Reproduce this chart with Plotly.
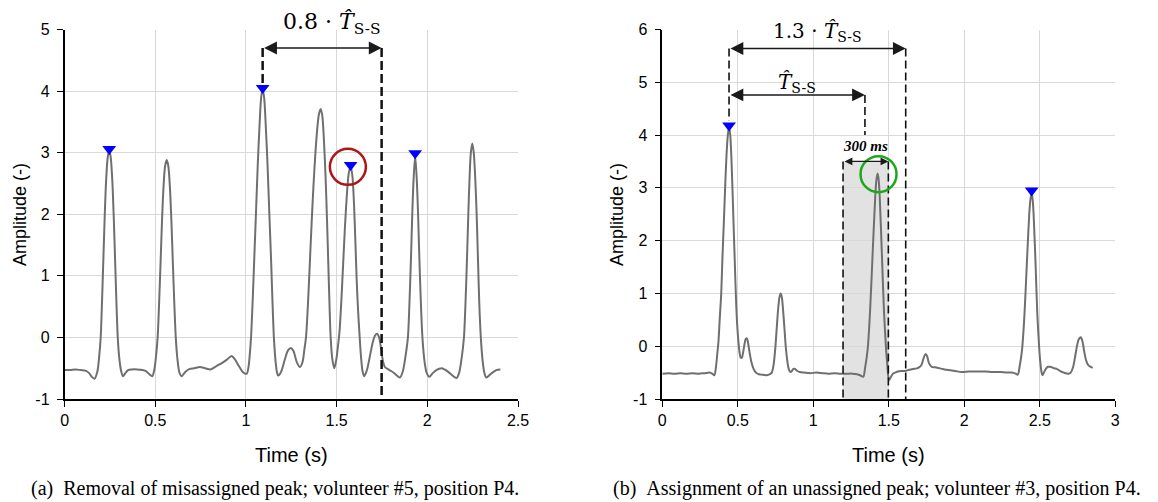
import plotly.graph_objects as go

# ---------------- data ----------------
left_time = [0.000, 0.030, 0.060, 0.090, 0.115, 0.135, 0.150, 0.165, 0.181, 0.191,
             0.199, 0.206, 0.213, 0.221, 0.229, 0.238, 0.246, 0.254, 0.263, 0.271,
             0.279, 0.286, 0.293, 0.302, 0.312, 0.322, 0.335, 0.350, 0.370, 0.400,
             0.430, 0.450, 0.468, 0.483, 0.495, 0.505, 0.513, 0.521, 0.529, 0.537,
             0.545, 0.554, 0.563, 0.572, 0.581, 0.589, 0.597, 0.605, 0.613, 0.622,
             0.633, 0.645, 0.665, 0.690, 0.715, 0.745, 0.775, 0.805, 0.835, 0.865,
             0.895, 0.921, 0.940, 0.960, 0.982, 1.004, 1.014, 1.021, 1.028, 1.037,
             1.046, 1.055, 1.065, 1.075, 1.084, 1.092, 1.100, 1.109, 1.119, 1.129,
             1.138, 1.146, 1.154, 1.163, 1.172, 1.178, 1.195, 1.215, 1.232, 1.248,
             1.262, 1.280, 1.298, 1.312, 1.322, 1.331, 1.342, 1.352, 1.362, 1.372,
             1.382, 1.392, 1.402, 1.412, 1.421, 1.430, 1.439, 1.447, 1.454, 1.461,
             1.467, 1.476, 1.487, 1.497, 1.507, 1.516, 1.526, 1.536, 1.546, 1.556,
             1.566, 1.577, 1.587, 1.596, 1.604, 1.611, 1.618, 1.626, 1.634, 1.643,
             1.652, 1.668, 1.685, 1.700, 1.712, 1.723, 1.734, 1.745, 1.755, 1.766,
             1.785, 1.803, 1.825, 1.849, 1.865, 1.880, 1.893, 1.902, 1.910, 1.917,
             1.924, 1.933, 1.942, 1.949, 1.956, 1.964, 1.973, 1.985, 1.997, 2.011,
             2.030, 2.050, 2.065, 2.080, 2.095, 2.115, 2.135, 2.161, 2.175, 2.190,
             2.202, 2.211, 2.219, 2.226, 2.233, 2.240, 2.248, 2.256, 2.264, 2.272,
             2.279, 2.286, 2.295, 2.305, 2.315, 2.325, 2.340, 2.360, 2.380, 2.403]
left_amp = [-0.53, -0.53, -0.52, -0.53, -0.54, -0.58, -0.64, -0.67, -0.55, -0.30,
            0.00, 0.55, 1.20, 1.95, 2.55, 2.93, 3.03, 2.93, 2.55, 1.95,
            1.20, 0.55, 0.00, -0.35, -0.55, -0.63, -0.58, -0.53, -0.52, -0.52,
            -0.53, -0.55, -0.60, -0.63, -0.52, -0.28, 0.00, 0.55, 1.20, 1.88,
            2.42, 2.78, 2.88, 2.78, 2.42, 1.88, 1.20, 0.55, 0.00, -0.35,
            -0.57, -0.63, -0.56, -0.51, -0.50, -0.48, -0.50, -0.52, -0.47, -0.42,
            -0.36, -0.30, -0.36, -0.46, -0.56, -0.59, -0.48, -0.28, 0.00, 0.60,
            1.30, 2.00, 2.80, 3.45, 3.90, 4.03, 3.90, 3.45, 2.80, 2.00,
            1.30, 0.60, 0.00, -0.38, -0.58, -0.62, -0.55, -0.35, -0.21, -0.17,
            -0.22, -0.40, -0.48, -0.40, -0.20, 0.00, 0.55, 1.20, 1.85, 2.45,
            2.95, 3.35, 3.62, 3.71, 3.60, 3.20, 2.60, 1.90, 1.20, 0.50,
            0.00, -0.35, -0.50, -0.38, -0.15, 0.10, 0.60, 1.20, 1.80, 2.30,
            2.65, 2.78, 2.62, 2.15, 1.50, 0.90, 0.45, 0.05, -0.30, -0.55,
            -0.63, -0.52, -0.28, -0.07, 0.03, 0.06, 0.00, -0.18, -0.38, -0.48,
            -0.52, -0.55, -0.60, -0.65, -0.55, -0.30, 0.00, 0.60, 1.30, 2.00,
            2.55, 2.95, 2.55, 2.00, 1.30, 0.60, 0.00, -0.40, -0.58, -0.64,
            -0.58, -0.53, -0.51, -0.50, -0.52, -0.56, -0.61, -0.66, -0.58, -0.32,
            0.00, 0.60, 1.30, 2.00, 2.60, 3.00, 3.15, 3.00, 2.60, 2.00,
            1.30, 0.60, 0.00, -0.38, -0.58, -0.65, -0.62, -0.57, -0.53, -0.52]

right_time = [0.000, 0.040, 0.080, 0.120, 0.160, 0.200, 0.240, 0.280, 0.316, 0.330,
              0.345, 0.355, 0.364, 0.372, 0.381, 0.390, 0.398, 0.407, 0.416, 0.425,
              0.434, 0.442, 0.450, 0.457, 0.465, 0.472, 0.480, 0.487, 0.495, 0.504,
              0.512, 0.520, 0.527, 0.535, 0.545, 0.553, 0.560, 0.567, 0.577, 0.590,
              0.603, 0.620, 0.640, 0.660, 0.690, 0.713, 0.725, 0.737, 0.748, 0.758,
              0.767, 0.776, 0.784, 0.792, 0.800, 0.809, 0.818, 0.828, 0.838, 0.848,
              0.858, 0.868, 0.878, 0.890, 0.910, 0.940, 0.980, 1.020, 1.060, 1.100,
              1.140, 1.180, 1.220, 1.260, 1.290, 1.310, 1.331, 1.343, 1.360, 1.376,
              1.393, 1.410, 1.418, 1.426, 1.433, 1.440, 1.454, 1.468, 1.482, 1.490,
              1.497, 1.503, 1.515, 1.527, 1.541, 1.560, 1.580, 1.607, 1.630, 1.660,
              1.685, 1.700, 1.715, 1.728, 1.738, 1.746, 1.755, 1.766, 1.784, 1.806,
              1.840, 1.870, 1.894, 1.940, 1.983, 2.030, 2.080, 2.137, 2.190, 2.240,
              2.280, 2.314, 2.340, 2.354, 2.366, 2.382, 2.398, 2.414, 2.430, 2.438,
              2.446, 2.452, 2.459, 2.472, 2.484, 2.497, 2.505, 2.512, 2.517, 2.527,
              2.540, 2.555, 2.568, 2.582, 2.597, 2.612, 2.635, 2.660, 2.689, 2.705,
              2.720, 2.735, 2.748, 2.760, 2.771, 2.782, 2.793, 2.805, 2.817, 2.830,
              2.850]
right_amp = [-0.52, -0.51, -0.52, -0.51, -0.52, -0.51, -0.52, -0.51, -0.50, -0.52,
             -0.55, -0.40, -0.15, 0.09, 0.55, 0.98, 1.65, 2.31, 3.00, 3.61,
             4.00, 4.16, 4.00, 3.61, 2.95, 2.31, 1.60, 0.98, 0.45, 0.09,
             -0.12, -0.22, -0.22, -0.12, 0.05, 0.14, 0.15, 0.08, -0.10, -0.30,
             -0.42, -0.50, -0.53, -0.54, -0.55, -0.53, -0.50, -0.35, -0.05, 0.35,
             0.70, 0.93, 1.00, 0.92, 0.68, 0.33, -0.02, -0.28, -0.44, -0.49,
             -0.47, -0.43, -0.43, -0.46, -0.49, -0.50, -0.51, -0.50, -0.51, -0.52,
             -0.51, -0.52, -0.52, -0.52, -0.53, -0.55, -0.58, -0.41, -0.06, 0.67,
             1.76, 2.82, 3.15, 3.27, 3.15, 2.82, 1.76, 0.67, -0.06, -0.35,
             -0.58, -0.64, -0.58, -0.52, -0.50, -0.48, -0.47, -0.47, -0.45, -0.43,
             -0.42, -0.40, -0.36, -0.25, -0.17, -0.15, -0.20, -0.32, -0.39, -0.40,
             -0.42, -0.44, -0.45, -0.47, -0.49, -0.48, -0.48, -0.48, -0.49, -0.49,
             -0.50, -0.50, -0.52, -0.54, -0.39, -0.08, 0.58, 1.55, 2.50, 2.78,
             2.90, 2.80, 2.50, 1.55, 0.58, -0.08, -0.35, -0.50, -0.55, -0.50,
             -0.43, -0.39, -0.39, -0.40, -0.42, -0.43, -0.47, -0.50, -0.52, -0.50,
             -0.40, -0.18, 0.03, 0.14, 0.17, 0.10, -0.08, -0.25, -0.34, -0.38,
             -0.41]

# detected peaks (markers)
left_peak_time = [0.246, 1.092, 1.577, 1.933]
left_peak_amp = [3.06, 4.05, 2.80, 2.99]
right_peak_time = [0.442, 2.446]
right_peak_amp = [4.18, 2.95]

# annotation quantities
left_ref_peak = 1.092          # start of the 0.8*T window
left_T_ss = 0.82               # estimated S-S period (s)
left_factor = 0.8
left_removed_peak = (1.562, 2.77)

right_ref_peak = 0.442
right_T_ss = 0.90
right_factor = 1.3
search_window_start = 1.197
search_window_len = 0.300
right_found_peak = (1.432, 3.26)

# axes / tick labels
left_xticks = [0, 0.5, 1, 1.5, 2, 2.5]
left_xtick_text = ["0", "0.5", "1", "1.5", "2", "2.5"]
left_yticks = [-1, 0, 1, 2, 3, 4, 5]
left_ytick_text = ["-1", "0", "1", "2", "3", "4", "5"]
right_xticks = [0, 0.5, 1, 1.5, 2, 2.5, 3]
right_xtick_text = ["0", "0.5", "1", "1.5", "2", "2.5", "3"]
right_yticks = [-1, 0, 1, 2, 3, 4, 5, 6]
right_ytick_text = ["-1", "0", "1", "2", "3", "4", "5", "6"]

caption_a = "(a)\u00a0\u00a0Removal of misassigned peak; volunteer #5, position P4."
caption_b = "(b)\u00a0\u00a0Assignment of an unassigned peak; volunteer #3, position P4."

# ---------------- figure ----------------
W, H = 1158, 502
def px_x(p):
    return p / W
def px_y(p):
    return (H - p) / H

CURVE = "#6f6f6f"
fig = go.Figure()
fig.add_trace(go.Scatter(x=left_time, y=left_amp, mode="lines",
                         line=dict(color=CURVE, width=2, shape="spline", smoothing=0.8),
                         xaxis="x", yaxis="y", showlegend=False, hoverinfo="skip"))
fig.add_trace(go.Scatter(x=left_peak_time, y=left_peak_amp, mode="markers",
                         marker=dict(symbol="triangle-down", size=12, color="#0000ff"),
                         xaxis="x", yaxis="y", showlegend=False, cliponaxis=False))
fig.add_trace(go.Scatter(x=right_time, y=right_amp, mode="lines",
                         line=dict(color=CURVE, width=2, shape="spline", smoothing=0.8),
                         xaxis="x2", yaxis="y2", showlegend=False, hoverinfo="skip"))
fig.add_trace(go.Scatter(x=right_peak_time, y=right_peak_amp, mode="markers",
                         marker=dict(symbol="triangle-down", size=12, color="#0000ff"),
                         xaxis="x2", yaxis="y2", showlegend=False, cliponaxis=False))

ydom = [px_y(399), px_y(29.5)]
axis_common = dict(showgrid=True, gridcolor="#d9d9d9", gridwidth=1, zeroline=False,
                   showline=True, linecolor="black", linewidth=1.6, ticks="outside",
                   ticklen=6, tickcolor="black", tickwidth=1, mirror=False,
                   automargin=False,
                   tickfont=dict(family="Liberation Sans, Arial", size=16, color="black"))
fig.update_layout(
    width=W, height=H, margin=dict(l=0, r=0, t=0, b=0, autoexpand=False), autosize=False,
    paper_bgcolor="white", plot_bgcolor="white",
    xaxis=dict(domain=[px_x(64.6), px_x(518)], range=[0, 2.5], tickvals=left_xticks,
               ticktext=left_xtick_text, anchor="y", **axis_common),
    yaxis=dict(domain=ydom, range=[-1, 5], tickvals=left_yticks,
               ticktext=left_ytick_text, anchor="x", ticklabelstandoff=4, **axis_common),
    xaxis2=dict(domain=[px_x(662.3), px_x(1115.3)], range=[0, 3], tickvals=right_xticks,
                ticktext=right_xtick_text, anchor="y2", **axis_common),
    yaxis2=dict(domain=ydom, range=[-1, 6], tickvals=right_yticks,
                ticktext=right_ytick_text, anchor="x2", ticklabelstandoff=4, **axis_common),
)

shapes = []
DASH_L = "9px,4px"
# left plot dashed lines
left_end = left_ref_peak + left_factor * left_T_ss
shapes.append(dict(type="line", xref="x", yref="y", x0=left_ref_peak, x1=left_ref_peak,
                   y0=4.70, y1=4.12, line=dict(color="#111", width=2.5, dash=DASH_L)))
shapes.append(dict(type="line", xref="x", yref="y", x0=left_end, x1=left_end,
                   y0=4.70, y1=-1, line=dict(color="#111", width=2.5, dash=DASH_L)))
# left red circle
shapes.append(dict(type="circle", xref="x", yref="y", xsizemode="pixel", ysizemode="pixel",
                   xanchor=left_removed_peak[0], yanchor=left_removed_peak[1],
                   x0=-18, x1=18, y0=-18, y1=18, line=dict(color="#b01414", width=2.5)))

# right plot
win_end = search_window_start + search_window_len
shapes.append(dict(type="rect", xref="x2", yref="y2", x0=search_window_start, x1=win_end,
                   y0=-1, y1=3.5, fillcolor="#e2e2e2", line=dict(width=0), layer="below"))
DASH_R = "8px,4px"
for xv in [search_window_start, win_end]:
    shapes.append(dict(type="line", xref="x2", yref="y2", x0=xv, x1=xv, y0=3.5, y1=-1,
                       line=dict(color="#111", width=1.6, dash=DASH_R)))
right_end_T = right_ref_peak + right_T_ss
right_end_13 = right_ref_peak + right_factor * right_T_ss
shapes.append(dict(type="line", xref="x2", yref="y2", x0=right_ref_peak, x1=right_ref_peak,
                   y0=5.64, y1=4.27, line=dict(color="#111", width=1.6, dash=DASH_R)))
shapes.append(dict(type="line", xref="x2", yref="y2", x0=right_end_T, x1=right_end_T,
                   y0=4.76, y1=4.0, line=dict(color="#111", width=1.6, dash=DASH_R)))
shapes.append(dict(type="line", xref="x2", yref="y2", x0=right_end_13, x1=right_end_13,
                   y0=5.64, y1=-1, line=dict(color="#111", width=1.6, dash=DASH_R)))
shapes.append(dict(type="circle", xref="x2", yref="y2", xsizemode="pixel", ysizemode="pixel",
                   xanchor=right_found_peak[0], yanchor=right_found_peak[1],
                   x0=-18, x1=18, y0=-18, y1=18, line=dict(color="#1ca81c", width=2.5)))
fig.update_layout(shapes=shapes)

ann = []
def arrow(xr, yr, xa, xb, y, width=1.6, size=1.6):
    ann.append(dict(xref=xr, yref=yr, axref=xr, ayref=yr, x=xb, y=y, ax=xa, ay=y,
                    text="", showarrow=True, arrowhead=2, arrowside="end+start",
                    arrowsize=size, arrowwidth=width, arrowcolor="#1a1a1a", standoff=0,
                    startstandoff=0))

arrow("x", "y", left_ref_peak, left_end, 4.70)
arrow("x2", "y2", right_ref_peak, right_end_13, 5.64)
arrow("x2", "y2", right_ref_peak, right_end_T, 4.76)
arrow("x2", "y2", search_window_start, win_end, 3.5, width=1.2, size=1.3)

that = "<i>T\u0302</i><sub>S-S</sub>"
# left label sits above the plot area -> paper coordinates
ann.append(dict(xref="paper", yref="paper", x=px_x(331.5), y=px_y(24), text="0.8 · " + that,
                showarrow=False, font=dict(family="DejaVu Serif", size=22, color="black"),
                xanchor="center", yanchor="middle"))
ann.append(dict(xref="x2", yref="y2", x=1.028, y=5.95, text="1.3 · " + that,
                showarrow=False, font=dict(family="DejaVu Serif", size=20, color="black"),
                xanchor="center", yanchor="middle"))
ann.append(dict(xref="x2", yref="y2", x=0.895, y=4.98, text=that,
                showarrow=False, font=dict(family="DejaVu Serif", size=20, color="black"),
                xanchor="center", yanchor="middle"))
ann.append(dict(xref="x2", yref="y2", x=1.348, y=3.80, text="<b><i>300 ms</i></b>",
                showarrow=False, font=dict(family="Liberation Serif", size=15, color="black"),
                xanchor="center", yanchor="middle"))

# axis titles
TFx = dict(family="Liberation Sans, Arial", size=20, color="black")
TFy = dict(family="Liberation Sans, Arial", size=18, color="black")
ann.append(dict(xref="paper", yref="paper", x=px_x(291.3), y=px_y(455), text="Time (s)",
                showarrow=False, font=TFx, xanchor="center", yanchor="middle"))
ann.append(dict(xref="paper", yref="paper", x=px_x(888.8), y=px_y(455), text="Time (s)",
                showarrow=False, font=TFx, xanchor="center", yanchor="middle"))
ann.append(dict(xref="paper", yref="paper", x=px_x(20), y=px_y(215), text="Amplitude (-)",
                showarrow=False, font=TFy, textangle=-90, xanchor="center", yanchor="middle"))
ann.append(dict(xref="paper", yref="paper", x=px_x(617), y=px_y(215), text="Amplitude (-)",
                showarrow=False, font=TFy, textangle=-90, xanchor="center", yanchor="middle"))
# captions
CF = dict(family="Liberation Serif", size=20, color="black")
ann.append(dict(xref="paper", yref="paper", x=px_x(275), y=px_y(488), text=caption_a,
                showarrow=False, font=CF, xanchor="center", yanchor="middle"))
ann.append(dict(xref="paper", yref="paper", x=px_x(877), y=px_y(488), text=caption_b,
                showarrow=False, font=CF, xanchor="center", yanchor="middle"))
fig.update_layout(annotations=ann)

fig.write_html("out.html", config={"displayModeBar": False},
               post_script="document.body.style.margin='0px';document.body.style.overflow='hidden';")
